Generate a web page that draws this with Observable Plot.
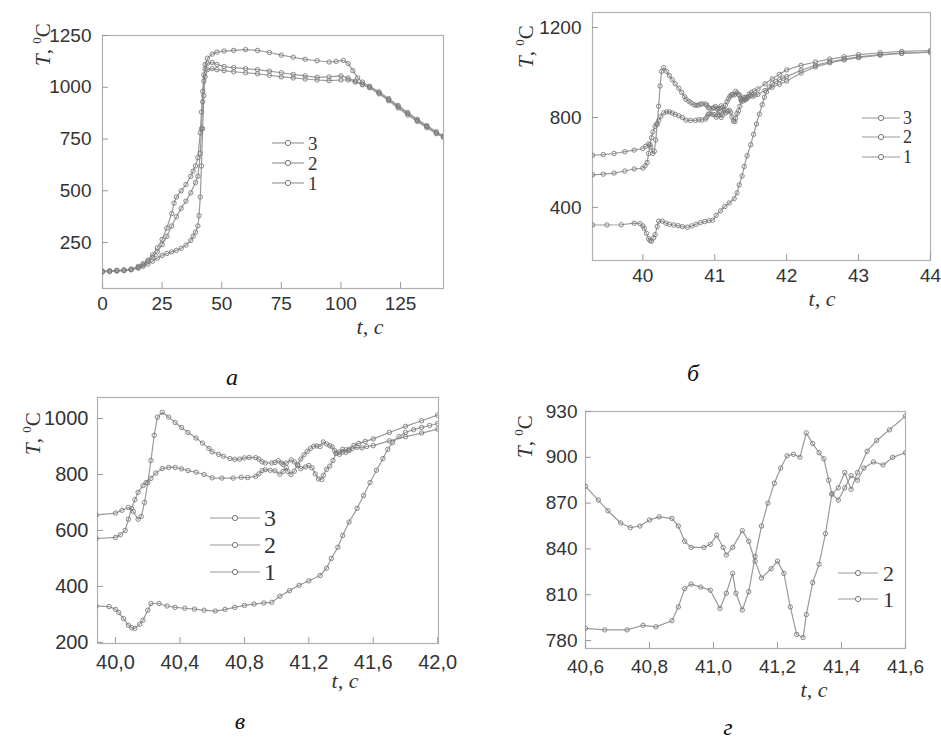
<!DOCTYPE html>
<html><head><meta charset="utf-8">
<script src="https://cdn.jsdelivr.net/npm/d3@7"></script>
<script src="https://cdn.jsdelivr.net/npm/@observablehq/plot@0.6"></script>
<style>
body{margin:0;background:#fff;}
#root{position:relative;width:941px;height:740px;overflow:hidden;background:#fff}
.panel{position:absolute}
#overlay{position:absolute;left:0;top:0;pointer-events:none}
</style></head><body><div id="root"></div>
<script>
// ---------- data ----------
// panel а : whole run 0..143 s, three thermocouples
const a2 = [[0,112],[3,114],[6,116],[9,118],[12,122],[15,135],[17,148],[19,165],[21,190],[23,225],[25,265],[27,320],[29,390],[30,440],[31,470],[33,500],[35,530],[37,570],[38,595],[39,620],[40,660],[41,780],[41.5,880],[42,980],[42.5,1060],[43,1110],[44,1140],[46,1160],[48,1170],[51,1175],[55,1178],[60,1182],[65,1178],[70,1168],[75,1155],[80,1145],[85,1135],[90,1128],[95,1122],[98,1125],[101,1130],[103,1115],[105,1080],[107,1045],[109,1025],[112,1005],[116,978],[120,945],[124,912],[128,878],[132,845],[136,815],[140,785],[143,765]];
const a1 = [[0,110],[3,112],[6,114],[9,116],[12,120],[15,130],[17,142],[19,158],[21,178],[23,205],[25,240],[27,280],[29,330],[31,375],[33,415],[35,450],[37,490],[39,540],[40,570],[41,680],[41.5,800],[42,930],[42.5,1030],[43,1090],[44,1115],[46,1120],[48,1110],[51,1100],[55,1095],[60,1090],[65,1085],[70,1078],[75,1070],[80,1062],[85,1055],[90,1048],[95,1050],[100,1055],[103,1045],[106,1030],[109,1015],[112,1000],[116,972],[120,940],[124,906],[128,872],[132,840],[136,810],[140,780],[143,762]];
const a3 = [[0,108],[3,110],[6,112],[9,114],[12,118],[15,126],[17,135],[19,146],[21,160],[23,175],[25,188],[27,197],[29,205],[31,212],[33,222],[35,238],[37,260],[38,280],[39,300],[40,330],[40.5,380],[41,470],[41.5,620],[42,800],[42.5,960],[43,1050],[44,1085],[46,1090],[48,1085],[51,1080],[55,1075],[60,1070],[65,1065],[70,1058],[75,1050],[80,1045],[85,1040],[90,1035],[95,1032],[100,1035],[103,1035],[106,1025],[109,1012],[112,998],[116,968],[120,935],[124,900],[128,866],[132,835],[136,805],[140,776],[143,758]];

// panels б, в, г : detail 39.3..44 s
const d2 = [[39.3,632],[39.45,635],[39.6,640],[39.75,648],[39.88,655],[40.0,662],[40.04,672],[40.08,682],[40.11,668],[40.14,640],[40.16,650],[40.18,700],[40.2,770],[40.22,850],[40.24,940],[40.26,1005],[40.29,1022],[40.33,1005],[40.37,986],[40.41,968],[40.45,950],[40.5,930],[40.54,912],[40.58,893],[40.6,881],[40.64,872],[40.67,865],[40.71,857],[40.74,854],[40.77,855],[40.8,859],[40.83,861],[40.87,860],[40.89,855],[40.91,845],[40.93,841],[40.97,841],[40.99,843],[41.01,849],[41.03,841],[41.04,836],[41.06,841],[41.09,852],[41.11,845],[41.13,832],[41.15,821],[41.18,827],[41.2,832],[41.22,824],[41.24,802],[41.26,784],[41.28,782],[41.29,797],[41.31,818],[41.33,830],[41.35,850],[41.37,876],[41.39,880],[41.41,890],[41.43,879],[41.45,890],[41.48,904],[41.51,911],[41.55,918],[41.6,927],[41.7,950],[41.8,972],[41.9,992],[42.0,1012],[42.2,1032],[42.4,1047],[42.6,1060],[42.8,1070],[43.0,1080],[43.3,1088],[43.6,1094],[44.0,1098]];
const d1 = [[39.3,545],[39.45,548],[39.6,553],[39.75,562],[39.88,571],[40.0,575],[40.03,585],[40.06,600],[40.08,640],[40.1,679],[40.12,710],[40.14,736],[40.17,760],[40.19,771],[40.22,786],[40.25,805],[40.29,821],[40.33,825],[40.37,825],[40.41,820],[40.45,814],[40.5,808],[40.55,800],[40.6,788],[40.66,787],[40.73,787],[40.78,790],[40.82,789],[40.87,793],[40.89,802],[40.91,814],[40.93,817],[40.96,815],[40.99,813],[41.02,801],[41.04,811],[41.06,824],[41.07,811],[41.09,800],[41.11,812],[41.13,835],[41.15,855],[41.17,870],[41.19,883],[41.21,893],[41.23,901],[41.25,902],[41.27,900],[41.29,916],[41.31,909],[41.33,903],[41.345,899],[41.36,885],[41.37,876],[41.39,872],[41.41,880],[41.43,888],[41.45,885],[41.47,893],[41.5,897],[41.53,895],[41.56,900],[41.6,903],[41.7,920],[41.8,935],[41.9,948],[42.0,962],[42.2,998],[42.4,1025],[42.6,1043],[42.8,1056],[43.0,1066],[43.3,1077],[43.6,1085],[44.0,1092]];
const d3s = [[39.3,322],[39.5,322],[39.7,323],[39.88,330],[39.96,328],[40.0,318],[40.02,307],[40.05,285],[40.08,261],[40.1,252],[40.12,250],[40.15,265],[40.17,279],[40.2,315],[40.22,339],[40.27,339],[40.32,330],[40.37,325],[40.43,322],[40.49,319],[40.55,315],[40.62,312],[40.68,318],[40.74,325],[40.8,332],[40.86,337],[40.92,341],[40.97,343],[41.02,365],[41.08,385],[41.14,404],[41.2,420],[41.27,439],[41.31,465],[41.34,500],[41.38,540],[41.41,582],[41.45,630],[41.5,679],[41.54,725],[41.58,771],[41.62,815],[41.66,857],[41.69,890],[41.72,914],[41.76,935],[41.8,950],[41.85,960],[41.9,968],[41.95,975],[42.0,982],[42.2,1010],[42.4,1032],[42.6,1048],[42.8,1060],[43.0,1070],[43.3,1080],[43.6,1086],[44.0,1090]];

// tick labels
const ticksAx = [0,25,50,75,100,125], ticksAy = [250,500,750,1000,1250];
const ticksBx = [40,41,42,43,44], ticksBy = [400,800,1200];
const ticksVx = [40.0,40.4,40.8,41.2,41.6,42.0], ticksVy = [200,400,600,800,1000];
const ticksGx = [40.6,40.8,41.0,41.2,41.4,41.6], ticksGy = [780,810,840,870,900,930];

// texts
const legend3 = ["3","2","1"], legend2 = ["2","1"];
const xTitle = "t, c";
const yTitleParts = ["T", ", ", "0", "C"];
const panelLetters = ["а","б","в","г"];

// ---------- drawing ----------
const root = document.getElementById("root");
const comma = d => d3.format(".1f")(d).replace(".", ",");

function rows(name, pts){ return pts.map(([t,T]) => ({t, T, s: name})); }

function panel(o){
  const innerW = o.width - o.ml - o.mr, innerH = o.height - o.mt - o.mb;
  const data = o.series.flatMap(([n,p]) => rows(n,p));
  const fs = o.fs || 19;
  const chart = Plot.plot({
    width: o.width, height: o.height,
    marginLeft: o.ml, marginRight: o.mr, marginTop: o.mt, marginBottom: o.mb,
    style: {fontFamily: "'Liberation Sans', Arial, sans-serif", fontSize: fs + "px", color: "#333", background: "transparent", overflow: "visible"},
    x: {domain: o.xd, ticks: o.xt, tickFormat: o.xf, tickSize: 0, tickPadding: o.xpad, label: null},
    y: {domain: o.yd, ticks: o.yt, tickFormat: d => String(d), tickSize: 0, tickPadding: o.ypad, label: null},
    marks: [
      Plot.frame({stroke: "#b0b0b0", strokeWidth: 1.2}),
      Plot.tickX(o.xt, {x: d => d, insetTop: innerH - 6, stroke: "#999"}),
      Plot.tickY(o.yt, {y: d => d, insetRight: innerW - 6, stroke: "#999"}),
      Plot.line(data, {x: "t", y: "T", z: "s", stroke: "#9a9a9a", strokeWidth: 1.2, clip: true}),
      Plot.dot(data, {x: "t", y: "T", r: 2.2, stroke: "#7a7a7a", strokeWidth: 0.9, fill: "none", clip: true})
    ]
  });
  chart.classList.add("panel");
  chart.style.left = o.left + "px";
  chart.style.top = o.top + "px";
  root.appendChild(chart);
}

panel({left: 0, top: 0, width: 470, height: 340, ml: 102, mr: 27, mt: 35, mb: 52,
  xd: [0,143], yd: [28,1250], xt: ticksAx, yt: ticksAy, xf: d => String(d), xpad: 8, ypad: 11,
  series: [["3",a3],["2",a2],["1",a1]]});
panel({left: 470, top: 0, width: 471, height: 340, ml: 122, mr: 11, mt: 12, mb: 80,
  xd: [39.3,44], yd: [164,1267], xt: ticksBx, yt: ticksBy, xf: d => String(d), xpad: 8, ypad: 11,
  series: [["3",d3s],["2",d2],["1",d1]]});
panel({left: 0, top: 370, width: 470, height: 350, ml: 97, mr: 32, mt: 27, mb: 77, fs: 20,
  xd: [39.888,42.005], yd: [196,1075], xt: ticksVx, yt: ticksVy, xf: comma, xpad: 11, ypad: 9,
  series: [["3",d3s],["2",d2],["1",d1]]});
panel({left: 470, top: 370, width: 471, height: 350, ml: 115, mr: 36, mt: 41, mb: 72,
  xd: [40.6,41.6], yd: [774.8,930], xt: ticksGx, yt: ticksGy, xf: comma, xpad: 11, ypad: 8,
  series: [["2",d2],["1",d1]]});

// overlay: titles, letters, legends
const ov = d3.select(root).append("svg").attr("id","overlay").attr("width",941).attr("height",740);
const serif = "'Liberation Serif', 'Times New Roman', serif";

function yTitle(x, y){
  const t = ov.append("text").attr("transform", `translate(${x},${y}) rotate(-90)`)
    .attr("font-family", serif).attr("font-size", 21).attr("fill", "#333");
  t.append("tspan").attr("font-style","italic").text(yTitleParts[0]);
  t.append("tspan").text(yTitleParts[1]);
  t.append("tspan").attr("dy", -9).attr("font-size", 13).text(yTitleParts[2]);
  t.append("tspan").attr("dy", 9).text(yTitleParts[3]);
}
function xT(x, y){
  ov.append("text").attr("x", x).attr("y", y).attr("text-anchor","middle")
    .attr("font-family", serif).attr("font-style","italic").attr("font-size", 22).attr("fill","#333")
    .attr("xml:space","preserve").text(xTitle);
}
function letter(i, x, y){
  ov.append("text").attr("x", x).attr("y", y).attr("text-anchor","middle")
    .attr("font-family", serif).attr("font-style","italic").attr("font-size", 24).attr("fill","#111")
    .text(panelLetters[i]);
}
function legend(labels, x1, x2, xt, ys, fs){
  labels.forEach((lab, i) => {
    const y = ys[i];
    ov.append("line").attr("x1", x1).attr("x2", x2).attr("y1", y).attr("y2", y).attr("stroke", "#999").attr("stroke-width", 1.2);
    ov.append("circle").attr("cx", (x1 + x2) / 2).attr("cy", y).attr("r", 2.6).attr("fill", "#fff").attr("stroke", "#777");
    ov.append("text").attr("x", xt).attr("y", y).attr("dy", "0.35em").attr("font-family", serif)
      .attr("font-size", fs).attr("fill", "#333").text(lab);
  });
}

yTitle(50, 66); yTitle(533, 68); yTitle(40, 455); yTitle(532, 458);
xT(370, 334); xT(822, 306); xT(345, 688); xT(814, 697);
letter(0, 232, 385); letter(1, 693, 381); letter(2, 240, 729); letter(3, 728, 735);
legend(legend3, 272, 304, 308, [143,163,183], 19);
legend(legend3, 862, 900, 903, [118,137,157], 18);
legend(legend3, 210, 260, 264, [518,545,572], 24);
legend(legend2, 838, 878, 883, [573,599], 22);
</script></body></html>
